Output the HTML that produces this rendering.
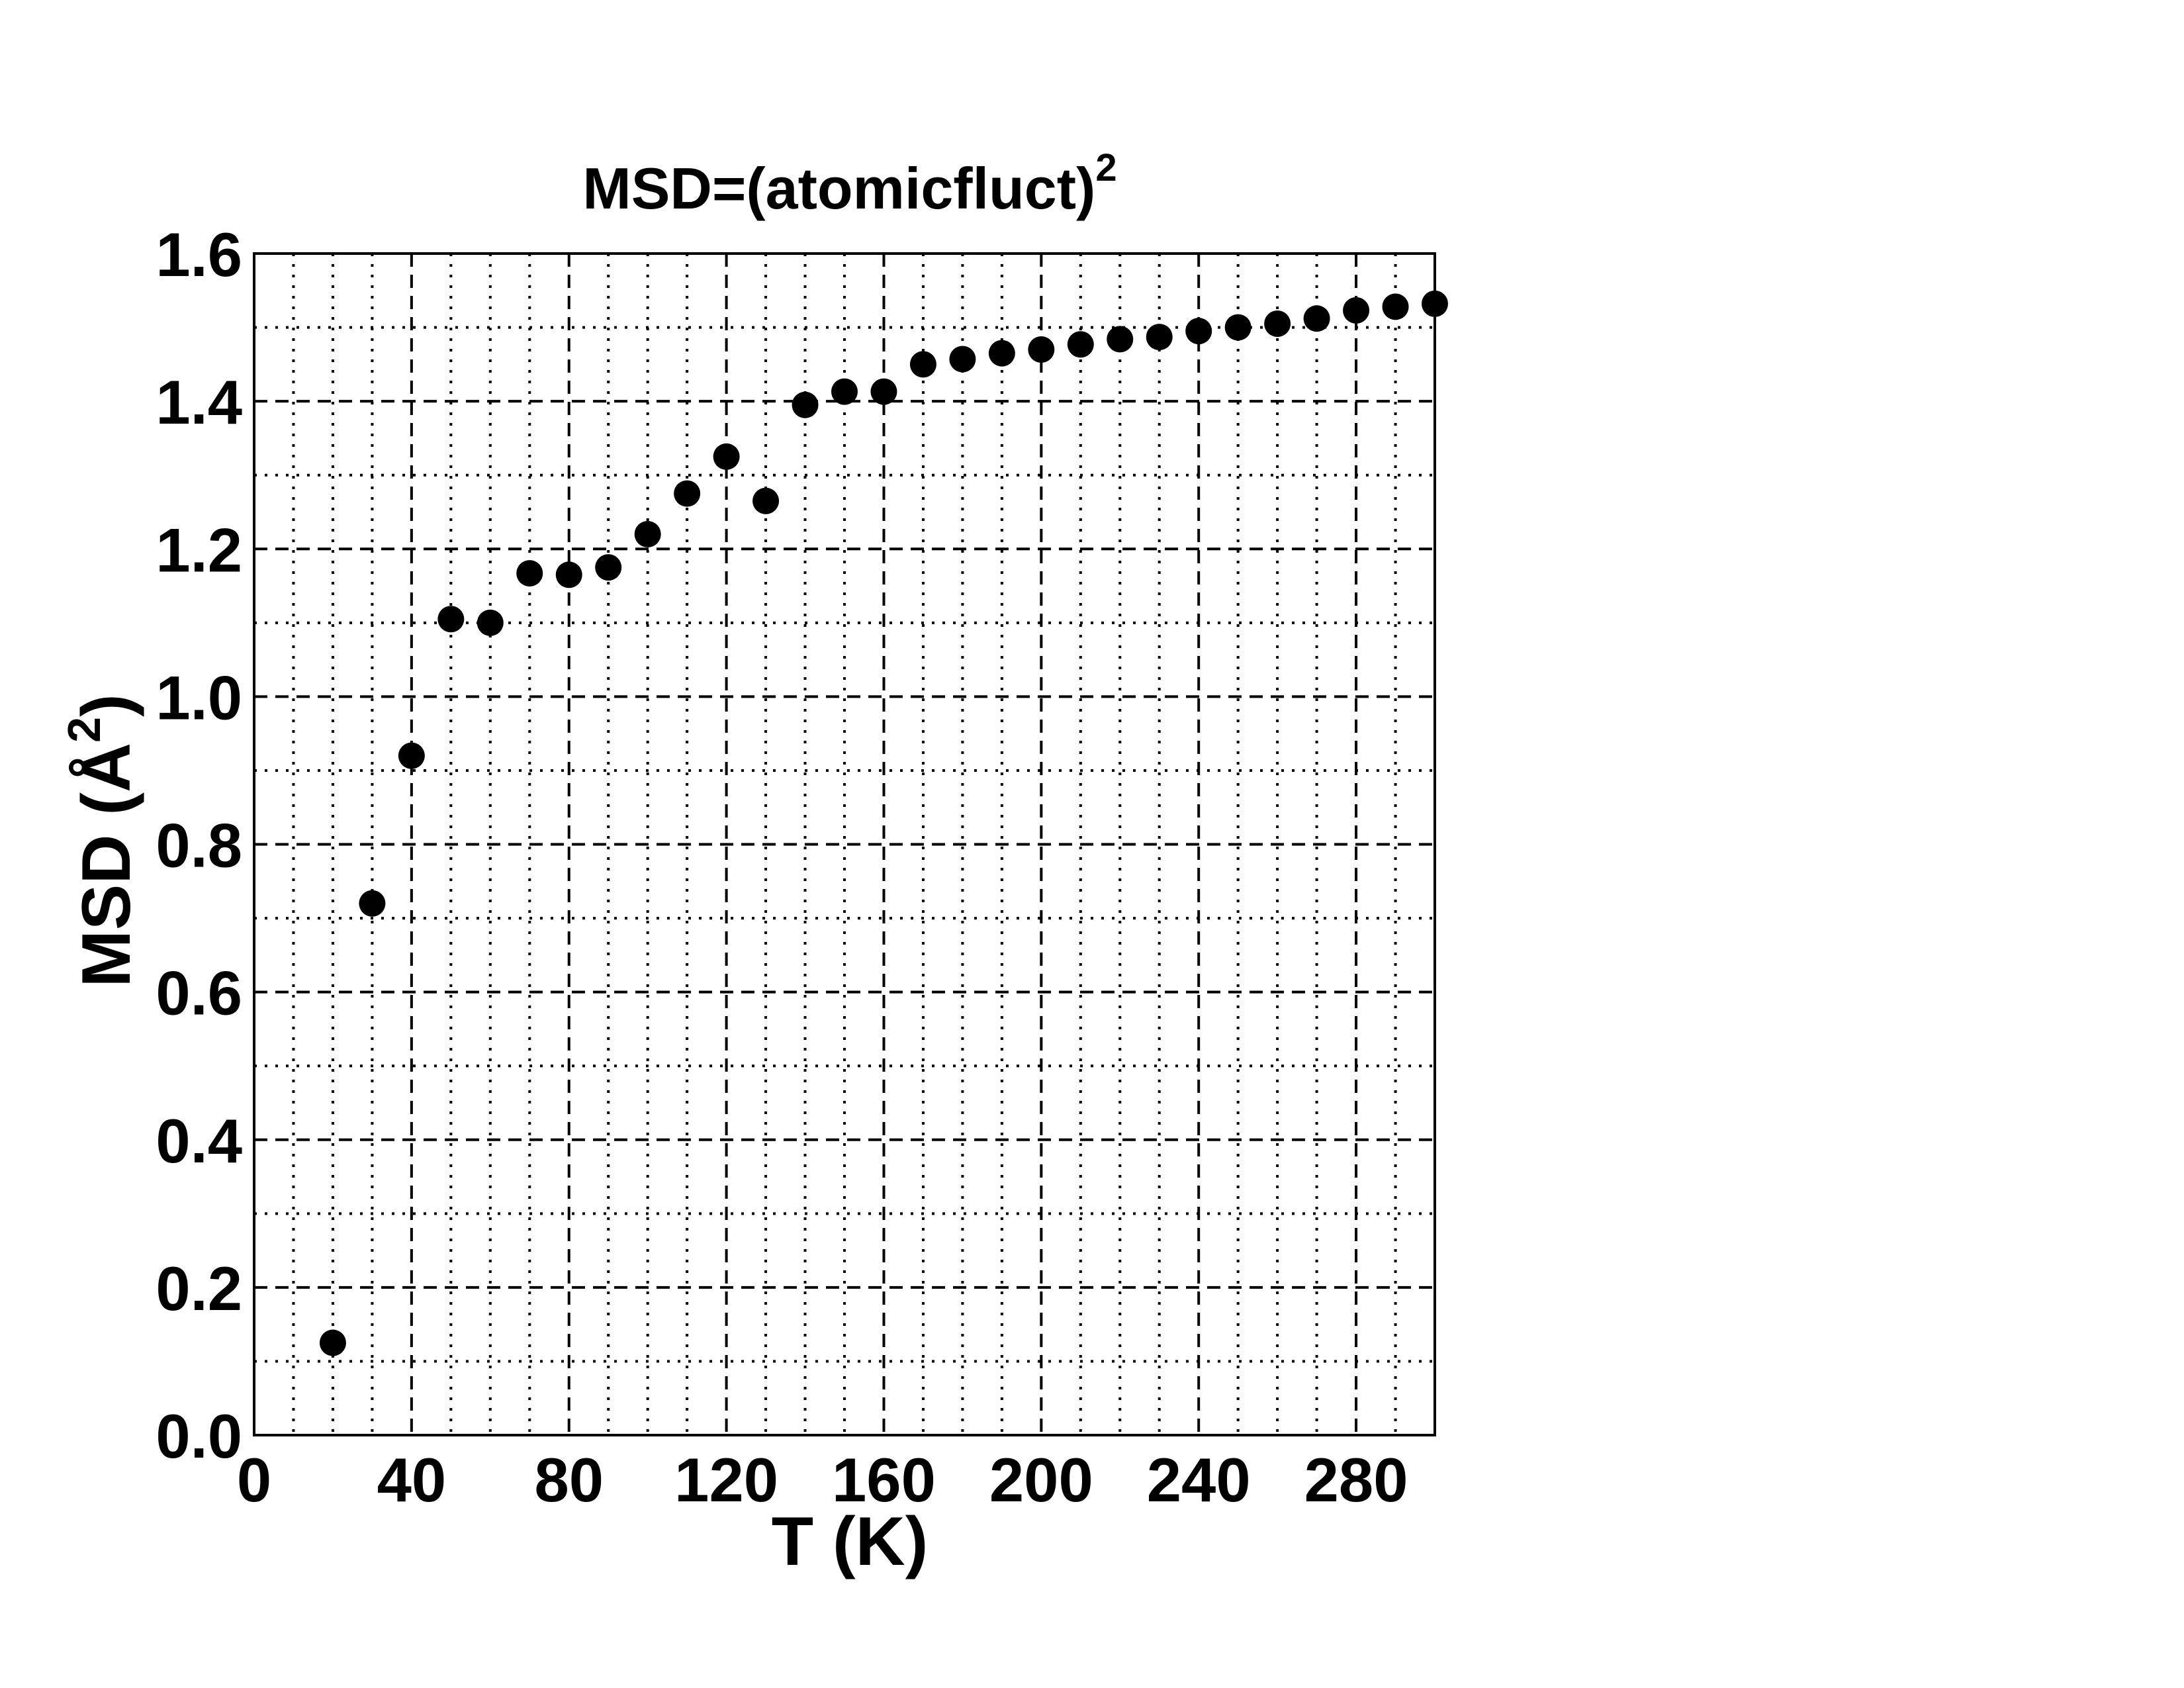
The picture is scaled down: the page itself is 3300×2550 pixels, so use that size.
<!DOCTYPE html>
<html><head><meta charset="utf-8"><style>
html,body{margin:0;padding:0;background:#fff;}
svg{display:block;}
text{font-family:"Liberation Sans",Arial,sans-serif;font-weight:bold;fill:#000;}
</style></head><body>
<svg id="chart" width="3300" height="2550" viewBox="0 0 3300 2550" xmlns="http://www.w3.org/2000/svg">
<rect width="3300" height="2550" fill="#fff"/>
<g id="grid"></g>
<g id="marks"></g>
<rect x="384" y="383" width="1784" height="1785" fill="none" stroke="#000" stroke-width="4"/>
<g id="xticks"></g>
<g id="yticks"></g>
<text x="1284" y="315" font-size="88" text-anchor="middle">MSD=(atomicfluct)<tspan font-size="58" dy="-42">2</tspan></text>
<text x="1284" y="2364" font-size="104" text-anchor="middle">T (K)</text>
<text transform="translate(196,1270) rotate(-90)" font-size="104" text-anchor="middle">MSD (Å<tspan font-size="70" dy="-45">2</tspan><tspan dy="45">)</tspan></text>
</svg>
<script>
const temps = [20,30,40,50,60,70,80,90,100,110,120,130,140,150,160,170,180,190,200,210,220,230,240,250,260,270,280,290,300];
const msd = [0.125,0.72,0.92,1.105,1.10,1.167,1.165,1.175,1.22,1.275,1.325,1.265,1.395,1.413,1.413,1.45,1.457,1.465,1.47,1.477,1.484,1.487,1.495,1.50,1.505,1.512,1.523,1.528,1.532];
const xTicks = [0,40,80,120,160,200,240,280];
const yTicks = [0.0,0.2,0.4,0.6,0.8,1.0,1.2,1.4,1.6];
const xMinor = [10,20,30,50,60,70,90,100,110,130,140,150,170,180,190,210,220,230,250,260,270,290];
const yMinor = [0.1,0.3,0.5,0.7,0.9,1.1,1.3,1.5];

const L=384,R=2168,T=383,B=2168;
const xs=v=>L+(v-0)/(300-0)*(R-L);
const ys=v=>B-(v-0)/(1.6-0)*(B-T);
const NS="http://www.w3.org/2000/svg";
function mk(tag,attrs,parent){const e=document.createElementNS(NS,tag);for(const k in attrs)e.setAttribute(k,attrs[k]);parent.appendChild(e);return e;}
const grid=document.getElementById('grid');
xMinor.forEach(v=>{const l=mk('line',{x1:xs(v),x2:xs(v),y1:T,y2:B,stroke:'#000','stroke-width':4,'stroke-dasharray':'4 12'},grid);

});
yMinor.forEach(v=>{const l=mk('line',{x1:L,x2:R,y1:ys(v),y2:ys(v),stroke:'#000','stroke-width':4,'stroke-dasharray':'4 12'},grid);

});
xTicks.slice(1).forEach(v=>{const l=mk('line',{x1:xs(v),x2:xs(v),y1:T,y2:B,stroke:'#000','stroke-width':4,'stroke-dasharray':'20 12'},grid);

});
yTicks.slice(1,-1).forEach(v=>{const l=mk('line',{x1:L,x2:R,y1:ys(v),y2:ys(v),stroke:'#000','stroke-width':4,'stroke-dasharray':'20 12'},grid);

});
const marks=document.getElementById('marks');
temps.forEach((t,i)=>{const c=mk('circle',{cx:xs(t),cy:ys(msd[i]),r:20,fill:'#000'},marks);

});
const xt=document.getElementById('xticks');
xTicks.forEach(v=>{const e=mk('text',{x:xs(v),y:2268,'font-size':94,'text-anchor':'middle'},xt);e.textContent=v;

});
const yt=document.getElementById('yticks');
yTicks.forEach(v=>{const e=mk('text',{x:366,y:ys(v)+34,'font-size':94,'text-anchor':'end'},yt);e.textContent=v.toFixed(1);

});
</script>
</body></html>
